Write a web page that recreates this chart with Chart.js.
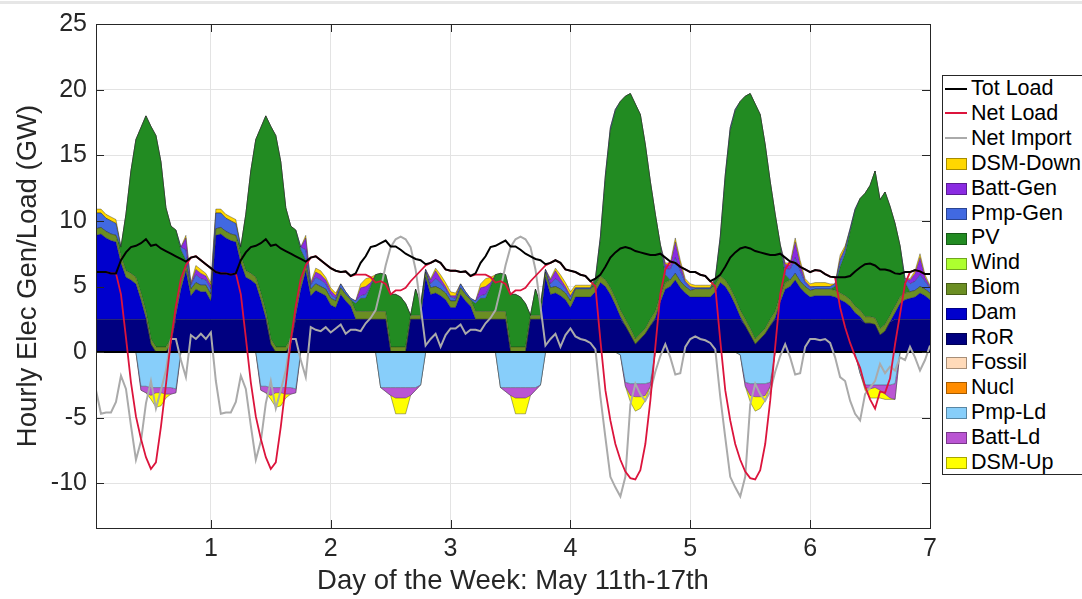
<!DOCTYPE html>
<html>
<head>
<meta charset="utf-8">
<script src="https://cdn.jsdelivr.net/npm/chart.js@4.4.1/dist/chart.umd.min.js"></script>
<style>
  body { margin: 0; background: #fff; font-family: 'Liberation Sans', Arial, sans-serif; }
  #wrap { position: relative; width: 1082px; height: 599px; overflow: hidden; }
  #topline { position: absolute; left: 0; top: 1px; width: 1082px; height: 3px; background: #e6e6e6; }
  #legend { position: absolute; left: 942px; top: 75px; width: 139px; height: 398px; border: 1px solid #262626; background: #fff; }
  .row { position: absolute; left: 0; width: 139px; height: 24.9px; line-height: 24.9px; font-size: 21.5px; color: #000; white-space: nowrap; }
  .row .line { position: absolute; left: 2px; top: 11.5px; width: 22px; height: 2px; }
  .row .box { position: absolute; left: 3px; top: 7.5px; width: 19px; height: 10px; border: 1px solid rgba(0,0,0,0.35); }
  .row .txt { position: absolute; left: 28px; top: 0; }
</style>
</head>
<body>
<div id="wrap">
  <div id="topline"></div>
  <canvas id="chart" width="1082" height="599"></canvas>
  <div id="legend"></div>
</div>
<script>
// hourly values, one row per day (hours 1..24), May 11th-17th
const ror = [
  2.5,2.5,2.5,2.5,2.5,2.5,2.5,2.5,2.5,2.5,2.5,0.6,0,0,0,0.6,2.5,2.5,2.5,2.5,2.5,2.5,2.5,2.5,
  2.5,2.5,2.5,2.5,2.5,2.5,2.5,2.5,2.5,2.5,2.5,0.6,0,0,0,0.6,2.5,2.5,2.5,2.5,2.5,2.5,2.5,2.5,
  2.5,2.5,2.5,2.5,2.5,2.5,2.5,2.5,2.5,2.5,2.5,0,0,0,0,2.5,2.5,2.5,2.5,2.5,2.5,2.5,2.5,2.5,
  2.5,2.5,2.5,2.5,2.5,2.5,2.5,2.5,2.5,2.5,2.5,0,0,0,0,2.5,2.5,2.5,2.5,2.5,2.5,2.5,2.5,2.5,
  2.5,2.5,2.5,2.5,2.5,2.5,2.5,2.5,2.5,2.5,2.0,1.3,0.6,1.0,1.4,2.0,2.5,2.5,2.5,2.5,2.5,2.5,2.5,2.5,
  2.5,2.5,2.5,2.5,2.5,2.5,2.5,2.5,2.5,2.5,2.0,1.3,0.6,1.0,1.4,2.0,2.5,2.5,2.5,2.5,2.5,2.5,2.5,2.5,
  2.5,2.5,2.5,2.5,2.5,2.5,2.5,2.5,2.5,2.5,2.2,2.2,2.1,1.3,1.6,2.3,2.5,2.5,2.5,2.5,2.5,2.5,2.5,2.5
];
const dam = [
  6.4,6.5,6.2,6.0,5.9,4.3,3.2,3.0,2.7,1.5,0.1,0,0,0,0,0,0.3,2.3,3.7,1.8,2.3,2.1,2.1,1.4,
  6.4,6.5,6.2,6.0,5.9,4.3,3.2,3.0,2.7,1.5,0.1,0,0,0,0,0,0.3,2.3,3.7,1.8,2.2,2.0,1.8,1.1,
  0.9,1.9,1.4,1.0,0,0,0,0,0,0,0,0,0,0,0,0,0,0,3.2,1.9,2.0,1.8,1.5,0.9,
  0.9,1.9,1.4,1.0,0,0,0,0,0,0,0,0,0,0,0,0,0,0,3.2,1.9,2.0,1.8,1.5,0.9,
  1.7,1.7,1.7,1.7,2.1,2.8,2.5,1.9,1.1,0.2,0,0,0,0,0,0,0.1,1.3,2.3,2.5,3.0,2.4,2.0,1.7,
  1.7,1.7,1.7,1.7,2.1,2.8,2.5,1.9,1.1,0.2,0,0,0,0,0,0,0.1,1.3,2.3,2.5,3.0,2.4,2.0,1.7,
  1.8,1.8,1.8,1.8,1.7,1.5,1.3,1.0,0.5,0.2,0,0,0,0,0,0,0.5,1.2,1.5,1.6,1.7,2.0,1.8,1.5
];
const biom = [
  0.5,0.5,0.5,0.5,0.5,0.5,0.5,0.5,0.5,0.5,0.5,0.4,0.4,0.4,0.4,0.4,0.5,0.5,0.5,0.5,0.5,0.5,0.5,0.5,
  0.5,0.5,0.5,0.5,0.5,0.5,0.5,0.5,0.5,0.5,0.5,0.4,0.4,0.4,0.4,0.4,0.5,0.5,0.5,0.5,0.5,0.5,0.5,0.5,
  0.5,0.5,0.5,0.5,0.6,0.6,0.6,0.6,0.6,0.6,0.6,0.4,0.4,0.4,0.4,0.3,0.3,0.3,0.4,0.5,0.5,0.5,0.5,0.5,
  0.5,0.5,0.5,0.5,0.6,0.6,0.6,0.6,0.6,0.6,0.6,0.4,0.4,0.4,0.4,0.3,0.3,0.3,0.4,0.5,0.5,0.5,0.5,0.5,
  0.6,0.6,0.6,0.6,0.5,0.5,0.5,0.5,0.5,0.5,0.5,0.5,0.4,0.4,0.4,0.5,0.5,0.5,0.5,0.5,0.5,0.5,0.5,0.5,
  0.6,0.6,0.6,0.6,0.5,0.5,0.5,0.5,0.5,0.5,0.5,0.5,0.4,0.4,0.4,0.5,0.5,0.5,0.5,0.5,0.5,0.5,0.5,0.5,
  0.5,0.5,0.5,0.5,0.5,0.5,0.5,0.5,0.5,0.5,0.5,0.5,0.5,0.5,0.5,0.5,0.5,0.5,0.5,0.5,0.5,0.5,0.5,0.5
];
const pv = [
  0,0,0,0,0,0.7,4.3,7.8,10.5,12.6,14.9,16.2,16.1,14.1,10.6,8.6,6.0,2.5,0.3,0,0,0,0,0,
  0,0,0,0,0,0.7,4.3,7.8,10.5,12.6,14.9,16.2,16.1,14.1,10.6,8.6,6.0,2.5,0.3,0,0,0,0,0,
  0,0,0,0,0.6,1.0,1.0,1.9,2.8,2.9,2.8,4.0,4.0,3.8,3.3,0,2.0,0.8,0,0,0,0,0,0,
  0,0,0,0,0.6,1.0,1.0,1.9,2.8,2.9,2.8,4.0,4.0,3.8,3.3,0,2.0,0.8,0,0,0,0,0,0,
  0,0,0,0,0.4,2.8,7.8,12.0,14.3,15.9,17.0,17.9,17.9,16.7,14.0,10.5,7.4,3.9,0.6,0,0,0,0,0,
  0,0,0,0,0.4,2.8,7.8,12.0,14.3,15.9,17.0,17.9,17.9,16.7,14.0,10.5,7.4,3.9,0.6,0,0,0,0,0,
  0,0,0,0,0.3,2.0,3.2,5.2,7.3,8.5,9.4,10.0,11.2,9.8,10.1,8.3,6.3,3.9,0.8,0,0,0,0,0
];
const pmpGen = [
  1.2,1.1,1.0,1.0,0.9,0,0,0,0,0,0,0,0,0,0,0,0,0.2,0.8,0.3,0.6,0.5,0.4,0.4,
  1.2,1.1,1.0,1.0,0.9,0,0,0,0,0,0,0,0,0,0,0,0,0.2,0.8,0.3,0.5,0.5,0.4,0.3,
  0.2,0.3,0.2,0.1,0.2,0.2,0.3,0.1,0,0,0,0,0,0,0,0,0,0,0.2,0.3,0.6,0.5,0.3,0.3,
  0.2,0.3,0.2,0.1,0.2,0.2,0.3,0.1,0,0,0,0,0,0,0,0,0,0,0.2,0.3,0.6,0.5,0.3,0.3,
  0.1,0.1,0.1,0.1,0.1,0.2,0.2,0.2,0.1,0,0,0,0,0,0,0,0,0,0.5,0.8,1.2,0.8,0.3,0.2,
  0.1,0.1,0.1,0.1,0.1,0.2,0.2,0.2,0.1,0,0,0,0,0,0,0,0,0,0.5,0.8,1.2,0.8,0.3,0.2,
  0.2,0.2,0.2,0.2,0.2,0.4,0.4,0.2,0.1,0,0,0,0,0,0,0,0,0,0.3,0.6,0.7,0.9,0.6,0.4
];
const battGen = [
  0,0,0,0,0,0,0,0,0,0,0,0,0,0,0,0,0,0,0.9,0.1,0.4,0.4,0.3,0.3,
  0,0,0,0,0,0,0,0,0,0,0,0,0,0,0,0,0,0,0.9,0.1,0.4,0.4,0.3,0.3,
  0.2,0,0,0,0,0.6,0.6,0.2,0,0,0,0,0,0,0,0,0,0,0,0.3,0.6,0.3,0.2,0.1,
  0.2,0,0,0,0,0.6,0.6,0.2,0,0,0,0,0,0,0,0,0,0,0,0.3,0.6,0.3,0.2,0.1,
  0,0,0,0,0,0,0,0,0,0,0,0,0,0,0,0,0,0,0.3,0.3,1.2,0.5,0.1,0.1,
  0,0,0,0,0,0,0,0,0,0,0,0,0,0,0,0,0,0,0.3,0.3,1.2,0.5,0.1,0.1,
  0,0,0,0,0,0.2,0,0,0,0,0,0,0,0,0,0,0,0,0,0.3,0.6,1.3,0.3,0.1
];
const dsmDown = [
  0.3,0.3,0.3,0.3,0.3,0,0,0,0,0,0,0,0,0,0,0,0,0,0.2,0.1,0.3,0.3,0.2,0.2,
  0.3,0.3,0.3,0.3,0.3,0,0,0,0,0,0,0,0,0,0,0,0,0,0.2,0.1,0.3,0.3,0.2,0.2,
  0.2,0,0,0,0,0.3,0.6,0.4,0,0,0,0,0,0,0,0,0,0,0,0.1,0.2,0.3,0.3,0.3,
  0.2,0,0,0,0,0.3,0.6,0.4,0,0,0,0,0,0,0,0,0,0,0,0.1,0.2,0.3,0.3,0.3,
  0.2,0.2,0.2,0.2,0,0,0,0,0,0,0,0,0,0,0,0,0,0,0.1,0.2,0.3,0.3,0.2,0.2,
  0.2,0.2,0.2,0.2,0,0,0,0,0,0,0,0,0,0,0,0,0,0,0.1,0.2,0.3,0.3,0.2,0.2,
  0.3,0.3,0.3,0.2,0,0.3,0.2,0,0,0,0,0,0,0,0,0,0,0,0,0.1,0.2,0.3,0.2,0.1
];
const pmpLd = [
  0,0,0,0,0,0,0,0,0,-2.6,-2.6,-2.7,-2.7,-2.7,-2.7,-2.7,-2.8,0,0,0,0,0,0,0,
  0,0,0,0,0,0,0,0,0,-2.6,-2.6,-2.7,-2.7,-2.7,-2.7,-2.7,-2.8,0,0,0,0,0,0,0,
  0,0,0,0,0,0,0,0,0,-2.7,-2.7,-2.7,-2.7,-2.7,-2.7,-2.7,-2.7,-2.5,0,0,0,0,0,0,
  0,0,0,0,0,0,0,0,0,-2.7,-2.7,-2.7,-2.7,-2.7,-2.7,-2.7,-2.7,-2.5,0,0,0,0,0,0,
  0,0,0,0,0,0,0,0,0,-0.2,-2.3,-2.4,-2.4,-2.4,-2.4,-2.3,0,0,0,0,0,0,0,0,
  0,0,0,0,0,0,0,0,0,-0.2,-2.3,-2.4,-2.4,-2.4,-2.4,-2.3,0,0,0,0,0,0,0,0,
  0,0,0,0,0,0,0,0,-0.1,-1.6,-2.5,-2.5,-2.5,-2.5,-2.5,-2.5,-2.4,0,0,0,0,0,0,0
];
const battLd = [
  0,0,0,0,0,0,0,0,0,-0.3,-0.5,-0.6,-0.4,-0.4,-0.5,-0.5,-0.3,0,0,0,0,0,0,0,
  0,0,0,0,0,0,0,0,0,-0.3,-0.5,-0.6,-0.4,-0.4,-0.5,-0.5,-0.3,0,0,0,0,0,0,0,
  0,0,0,0,0,0,0,0,0,0,-0.3,-0.6,-0.8,-0.8,-0.8,-0.6,-0.2,0,0,0,0,0,0,0,
  0,0,0,0,0,0,0,0,0,0,-0.3,-0.6,-0.8,-0.8,-0.8,-0.6,-0.2,0,0,0,0,0,0,0,
  0,0,0,0,0,0,0,0,0,0,-0.3,-0.9,-1.0,-1.0,-0.9,-0.3,0,0,0,0,0,0,0,0,
  0,0,0,0,0,0,0,0,0,0,-0.3,-0.9,-1.0,-1.0,-0.9,-0.3,0,0,0,0,0,0,0,0,
  0,0,0,0,0,0,0,0,0,0,-0.2,-0.3,-0.2,-0.4,-0.7,-1.0,-1.2,0,0,0,0,0,0,0
];
const dsmUp = [
  0,0,0,0,0,0,0,0,0,0,0,-0.3,-1.1,-1.0,-0.3,0,0,0,0,0,0,0,0,0,
  0,0,0,0,0,0,0,0,0,0,0,-0.3,-1.1,-1.0,-0.3,0,0,0,0,0,0,0,0,0,
  0,0,0,0,0,0,0,0,0,0,0,0,-1.2,-1.2,-1.2,0,0,0,0,0,0,0,0,0,
  0,0,0,0,0,0,0,0,0,0,0,0,-1.2,-1.2,-1.2,0,0,0,0,0,0,0,0,0,
  0,0,0,0,0,0,0,0,0,0,0,-0.5,-1.1,-0.9,-0.4,0,0,0,0,0,0,0,0,0,
  0,0,0,0,0,0,0,0,0,0,0,-0.5,-1.1,-0.9,-0.4,0,0,0,0,0,0,0,0,0,
  0,0,0,0,0,0,0,0,0,0,-0.2,-0.7,-0.8,-0.6,-0.4,-0.1,0,0,0,0,0,0,0,0
];
const totLoad = [
  6.1,6.1,6.1,6.0,6.0,7.0,7.6,8.0,8.1,8.3,8.6,8.1,8.2,7.9,7.7,7.5,7.3,7.1,6.9,7.2,7.3,7.0,6.7,6.4,
  6.1,6.0,6.0,5.9,6.0,7.0,7.6,8.0,8.1,8.3,8.6,8.1,8.2,7.9,7.7,7.5,7.3,7.1,6.9,7.2,7.3,7.0,6.7,6.4,
  6.2,6.1,6.15,5.8,6.0,6.8,7.3,8.0,8.1,8.3,8.5,8.05,8.05,7.8,7.5,7.3,7.1,7.0,6.7,6.8,7.0,6.8,6.3,6.2,
  6.2,6.1,6.15,5.8,6.0,6.8,7.3,8.0,8.1,8.3,8.5,8.05,8.05,7.8,7.5,7.3,7.1,7.0,6.7,6.8,7.0,6.8,6.3,6.2,
  6.1,5.9,5.8,5.4,5.6,5.9,6.5,7.2,7.6,7.9,8.0,7.9,7.7,7.6,7.5,7.4,7.4,7.5,7.2,6.9,6.8,6.5,6.3,6.1,
  6.1,5.9,5.8,5.4,5.6,5.9,6.5,7.2,7.6,7.9,8.0,7.9,7.7,7.6,7.5,7.4,7.4,7.5,7.2,6.9,6.8,6.5,6.3,6.1,
  6.25,6.2,5.95,5.75,5.7,5.7,5.7,5.8,6.15,6.45,6.7,6.75,6.6,6.3,6.3,6.2,6.0,5.95,6.1,6.1,6.25,6.15,5.95,5.95
];
const netLoad = [
  6.1,6.1,6.1,6.0,6.0,4.4,1.1,-2.3,-4.9,-6.6,-8.0,-8.9,-8.4,-5.7,-2.5,0.9,3.5,5.6,6.6,7.2,7.3,7.0,6.7,6.4,
  6.1,6.0,6.0,5.9,6.0,4.4,1.1,-2.3,-4.9,-6.6,-8.0,-8.9,-8.4,-5.7,-2.5,0.9,3.5,5.6,6.6,7.2,7.3,7.0,6.7,6.4,
  6.2,6.1,6.15,5.8,5.9,5.9,5.9,5.7,5.3,5.4,5.2,4.4,4.7,4.7,4.9,5.4,5.8,6.2,6.6,6.8,7.0,6.8,6.3,6.2,
  6.2,6.1,6.15,5.8,5.9,5.9,5.9,5.7,5.3,5.4,5.2,4.4,4.7,4.7,4.9,5.4,5.8,6.2,6.6,6.8,7.0,6.8,6.3,6.2,
  6.1,5.9,5.8,5.4,5.0,0.9,-2.9,-5.2,-7.0,-8.2,-9.1,-9.6,-9.7,-9.0,-7.0,-3.7,0.4,4.4,6.3,6.9,6.8,6.5,6.3,6.1,
  6.1,5.9,5.8,5.4,5.0,0.9,-2.9,-5.2,-7.0,-8.2,-9.1,-9.6,-9.7,-9.0,-7.0,-3.7,0.4,4.4,6.3,6.9,6.8,6.5,6.3,6.1,
  6.25,6.2,5.95,5.75,5.7,3.4,1.9,0.7,-0.3,-1.2,-2.6,-3.6,-4.3,-3.0,-3.1,-2.0,0.6,2.9,5.2,6.1,6.25,6.15,5.95,5.95
];
const netImport = [
  -2.9,-4.7,-4.6,-4.6,-3.8,-1.8,-2.8,-5.6,-8.2,-6.8,-3.9,-2.2,-4.3,-2.9,-1.4,1.0,1.0,-0.6,-1.9,1.3,1.0,1.4,1.0,1.5,
  -2.2,-4.7,-4.6,-4.6,-3.8,-1.8,-2.8,-5.6,-8.2,-6.8,-3.9,-2.2,-4.3,-2.9,-1.4,1.0,1.0,-0.6,-1.9,1.9,1.7,1.6,1.9,1.5,
  1.8,2.1,1.4,1.7,1.7,1.6,2.2,2.6,3.2,4.8,6.6,8.0,8.6,8.8,8.6,8.0,6.3,3.5,0.5,1.0,1.4,0.4,1.3,1.8,
  1.8,2.1,1.4,1.7,1.7,1.6,2.2,2.6,3.2,4.8,6.6,8.0,8.6,8.8,8.6,8.0,6.3,3.5,0.5,1.0,1.4,0.4,1.3,1.8,
  1.2,1.0,0.9,0.7,0.2,-3.4,-6.5,-9.5,-10.3,-11.0,-9.5,-4.0,-2.4,-3.2,-3.7,-3.0,-1.5,-0.3,0.6,-0.4,-1.7,-1.6,0.4,1.0,
  1.2,1.0,0.9,0.7,0.2,-3.4,-6.5,-9.5,-10.3,-11.0,-9.5,-4.0,-2.4,-3.2,-3.7,-3.0,-1.5,-0.3,0.6,-0.4,-1.7,-1.6,0.4,1.0,
  1.0,0.9,1.0,0.7,-0.4,-1.9,-2.2,-3.7,-4.7,-5.2,-3.2,-2.7,-2.2,-0.9,-1.6,-1.1,-1.4,-0.4,-0.6,0.4,-0.4,-1.4,-0.6,0.5
];
const dayTicks = [1, 2, 3, 4, 5, 6, 7];
const yTicks = [-10, -5, 0, 5, 10, 15, 20, 25];

// hour i+1 of the week -> fraction of a day
function toPoints(values) {
  return values.map((v, i) => ({ x: (i + 1) / 24, y: v }));
}

function areaSet(label, values, color, stack, fill) {
  return {
    label: label,
    data: toPoints(values),
    backgroundColor: color,
    borderColor: 'rgba(20,20,20,0.6)',
    borderWidth: 0.6,
    stack: stack,
    fill: fill
  };
}

function lineSet(label, values, color, width) {
  return {
    label: label,
    data: toPoints(values),
    borderColor: color,
    borderWidth: width,
    backgroundColor: color,
    stack: label,
    fill: false
  };
}

const datasets = [
  lineSet('Tot Load', totLoad, '#000000', 2),
  lineSet('Net Load', netLoad, '#DC143C', 1.8),
  lineSet('Net Import', netImport, '#AAAAAA', 2),
  areaSet('RoR', ror, '#000080', 'pos', 'origin'),
  areaSet('Dam', dam, '#0000CD', 'pos', '-1'),
  areaSet('Biom', biom, '#6B8E23', 'pos', '-1'),
  areaSet('PV', pv, '#228B22', 'pos', '-1'),
  areaSet('Pmp-Gen', pmpGen, '#4169E1', 'pos', '-1'),
  areaSet('Batt-Gen', battGen, '#8A2BE2', 'pos', '-1'),
  areaSet('DSM-Down', dsmDown, '#FFD700', 'pos', '-1'),
  areaSet('Pmp-Ld', pmpLd, '#87CEFA', 'neg', 'origin'),
  areaSet('Batt-Ld', battLd, '#BA55D3', 'neg', '-1'),
  areaSet('DSM-Up', dsmUp, '#FFFF00', 'neg', '-1')
];

// zero baseline under the load lines, box and inward ticks on top
const axisFrame = {
  id: 'axisFrame',
  afterDatasetDraw(chart, args) {
    if (chart.data.datasets[args.index].label !== 'RoR') return;
    const { ctx, chartArea: a, scales: { y } } = chart;
    const y0 = Math.round(y.getPixelForValue(0));
    ctx.save();
    ctx.strokeStyle = '#000';
    ctx.lineWidth = 2;
    ctx.beginPath();
    ctx.moveTo(a.left, y0);
    ctx.lineTo(a.right, y0);
    ctx.stroke();
    ctx.restore();
  },
  afterDraw(chart) {
    const { ctx, chartArea: a, scales: { x, y } } = chart;
    const t = 8;
    ctx.save();
    ctx.strokeStyle = '#262626';
    ctx.lineWidth = 1;
    ctx.strokeRect(Math.round(a.left) + 0.5, Math.round(a.top) + 0.5,
      Math.round(a.right - a.left), Math.round(a.bottom - a.top));
    ctx.beginPath();
    dayTicks.forEach(v => {
      const px = Math.round(x.getPixelForValue(v)) + 0.5;
      ctx.moveTo(px, a.bottom); ctx.lineTo(px, a.bottom - t);
      ctx.moveTo(px, a.top); ctx.lineTo(px, a.top + t);
    });
    yTicks.forEach(v => {
      const py = Math.round(y.getPixelForValue(v)) + 0.5;
      ctx.moveTo(a.left, py); ctx.lineTo(a.left + t, py);
      ctx.moveTo(a.right, py); ctx.lineTo(a.right - t, py);
    });
    ctx.stroke();
    ctx.restore();
  }
};

Chart.defaults.font.family = "'Liberation Sans', Arial, sans-serif";

new Chart(document.getElementById('chart').getContext('2d'), {
  type: 'line',
  data: { datasets: datasets },
  plugins: [axisFrame],
  options: {
    responsive: false,
    animation: false,
    layout: { padding: { left: 0, top: 22, right: 152, bottom: 0 } },
    elements: { point: { radius: 0 }, line: { tension: 0 } },
    plugins: { legend: { display: false }, tooltip: { enabled: false } },
    scales: {
      x: {
        type: 'linear',
        min: 1 / 24,
        max: 7,
        afterBuildTicks: s => { s.ticks = dayTicks.map(v => ({ value: v })); },
        afterFit: s => { s.height = 71; },
        grid: { color: '#e3e3e3', drawTicks: false },
        border: { display: false },
        ticks: { font: { size: 25 }, color: '#262626', padding: 6, maxRotation: 0, autoSkip: false },
        title: { display: true, text: 'Day of the Week: May 11th-17th', font: { size: 27.5 }, color: '#262626', padding: { top: 0, bottom: 1.5 } }
      },
      y: {
        stacked: true,
        min: -13.4,
        max: 25,
        afterBuildTicks: s => { s.ticks = yTicks.map(v => ({ value: v })); },
        afterFit: s => { s.width = 96; },
        grid: { color: '#e3e3e3', drawTicks: false },
        border: { display: false },
        ticks: { font: { size: 25 }, color: '#262626', padding: 9, autoSkip: false },
        title: { display: true, text: 'Hourly Elec Gen/Load (GW)', font: { size: 27.5 }, color: '#262626', padding: { top: 11.5, bottom: 0 } }
      }
    }
  }
});

// legend box on the right, in the reference order
const legendItems = [
  ['Tot Load', 'line', '#000000'],
  ['Net Load', 'line', '#DC143C'],
  ['Net Import', 'line', '#AAAAAA'],
  ['DSM-Down', 'box', '#FFD700'],
  ['Batt-Gen', 'box', '#8A2BE2'],
  ['Pmp-Gen', 'box', '#4169E1'],
  ['PV', 'box', '#228B22'],
  ['Wind', 'box', '#ADFF2F'],
  ['Biom', 'box', '#6B8E23'],
  ['Dam', 'box', '#0000CD'],
  ['RoR', 'box', '#000080'],
  ['Fossil', 'box', '#FFDAB9'],
  ['Nucl', 'box', '#FF8C00'],
  ['Pmp-Ld', 'box', '#87CEFA'],
  ['Batt-Ld', 'box', '#BA55D3'],
  ['DSM-Up', 'box', '#FFFF00']
];
const legendEl = document.getElementById('legend');
legendItems.forEach((item, i) => {
  const row = document.createElement('div');
  row.className = 'row';
  row.style.top = (i * 24.9) + 'px';
  const mark = document.createElement('span');
  mark.className = item[1];
  mark.style.background = item[2];
  const txt = document.createElement('span');
  txt.className = 'txt';
  txt.textContent = item[0];
  row.appendChild(mark);
  row.appendChild(txt);
  legendEl.appendChild(row);
});
</script>
</body>
</html>
